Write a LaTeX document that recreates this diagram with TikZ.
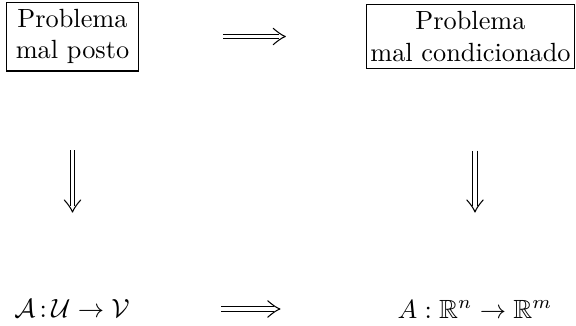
\documentclass[tikz,border=0pt]{standalone}
\usepackage{amssymb}
\usetikzlibrary{arrows.meta}
% Open double-arrow head in the style of \Rightarrow, for double lines
\pgfdeclarearrow{
  name = DoubleHead,
  setup code = {
    \pgfarrowssettipend{0.2pt}
    \pgfarrowssetlineend{-2.4pt}
    \pgfarrowssetbackend{-4.6pt}
    \pgfarrowssetvisualbackend{-4.6pt}
    \pgfarrowsupperhullpoint{-4.6pt}{3.1pt}
    \pgfarrowsupperhullpoint{0pt}{0pt}
  },
  drawing code = {
    \pgfsetlinewidth{0.4pt}
    \pgfsetdash{}{0pt}
    \pgfsetroundcap
    \pgfsetroundjoin
    \pgfpathmoveto{\pgfqpoint{-4.6pt}{3.1pt}}
    \pgfpathcurveto{\pgfqpoint{-3pt}{1.7pt}}{\pgfqpoint{-1.4pt}{0.5pt}}{\pgfqpoint{0pt}{0pt}}
    \pgfpathcurveto{\pgfqpoint{-1.4pt}{-0.5pt}}{\pgfqpoint{-3pt}{-1.7pt}}{\pgfqpoint{-4.6pt}{-3.1pt}}
    \pgfusepathqstroke
  }
}
\begin{document}
\begin{tikzpicture}[x=0.38pt, y=-0.38pt,
  probbox/.style={draw, line width=0.4pt, align=center, inner ysep=2pt},
  formula/.style={inner sep=1pt},
  imp/.style={double, double distance=1.4pt, line width=0.4pt, -{DoubleHead}}]
  \useasboundingbox (0,0) rectangle (576,326);
  % problem boxes
  \node[probbox, inner xsep=3.5pt, minimum height=26.2pt] (b1) at (72.5,36.5) {Problema\\mal posto};
  \node[probbox, inner xsep=1.5pt, minimum height=24.3pt] (b2) at (470.5,36.5) {Problema\\mal condicionado};
  % formulas
  \node[formula] (f1) at (72,309) {$\mathcal{A}\mskip3mu{:}\mskip3mu\mathcal{U}\to\mathcal{V}$};
  \node[formula] (f2) at (475,309) {$A:\mathbb{R}^n\to\mathbb{R}^m$};
  % implications
  \draw[imp, shorten <=31.9pt, shorten >=30.4pt] (b1) -- (b2);
  \draw[imp, shorten <=33.6pt, shorten >=43.3pt] (f1) -- (f2);
  \draw[imp, shorten <=30pt, shorten >=32pt] (b1.south) -- (b1.south |- f1.north);
  \draw[imp, shorten <=31pt, shorten >=32pt] (b2.south -| f2.north) -- (f2.north);
\end{tikzpicture}
\end{document}
